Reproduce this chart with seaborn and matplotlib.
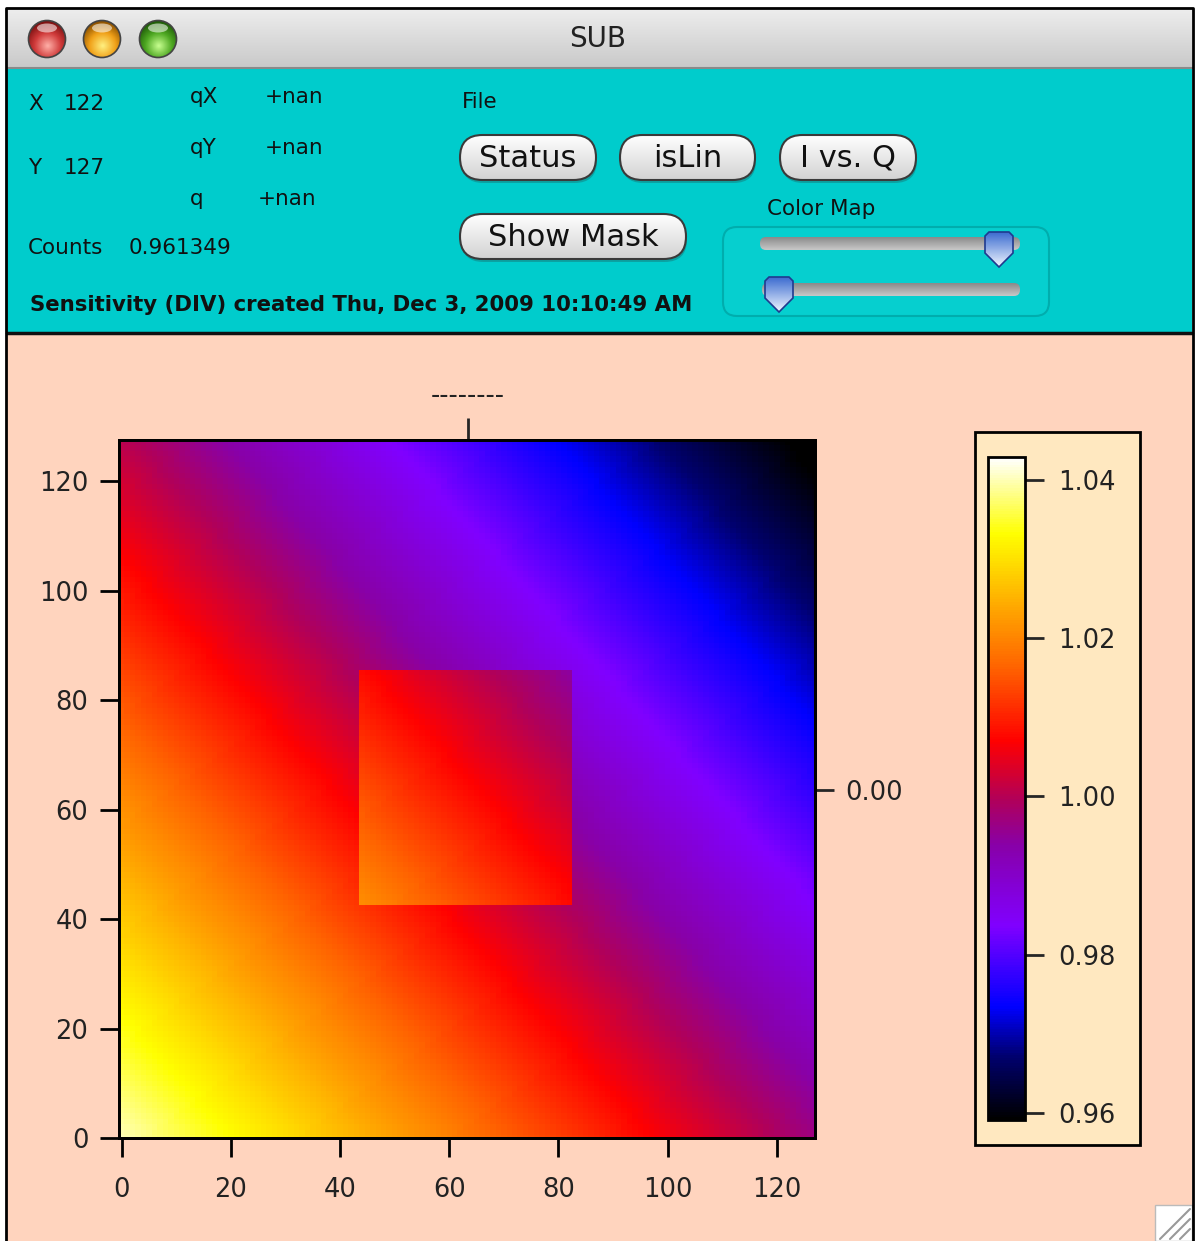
import numpy as np
import pandas as pd
import matplotlib
matplotlib.use("Agg")
import matplotlib.pyplot as plt
import seaborn as sns
from matplotlib.colors import LinearSegmentedColormap
from matplotlib.patches import Rectangle, FancyBboxPatch, Circle, Ellipse, Polygon

sns.set_theme(style="white")
plt.rcParams['font.family'] = ['DejaVu Sans']

W, H = 1196, 1241

# values
n_pix = 128
corner_value = 1.04        # value at pixel (0, 0)
step_x = 0.000339          # drop per pixel along x
step_y = 0.000311          # drop per pixel along y
mask_x = (44, 83)          # boxed region, x pixels
mask_y = (43, 86)          # boxed region, y pixels
mask_shift = 0.009         # box sits a bit higher
axis_ticks = [0, 20, 40, 60, 80, 100, 120]
cbar_ticks = [0.96, 0.98, 1.00, 1.02, 1.04]
vmin, vmax = 0.9591, 1.0429
cmap_values = [0.9591, 0.967, 0.9733, 0.9836, 0.9938, 0.9995, 1.007, 1.0165, 1.0237, 1.0333, 1.0429]
cmap_colors = ['#000000', '#00006E', '#0000FF', '#8000FF', '#8800A8', '#B0005A',
               '#FF0000', '#FF6400', '#FFA500', '#FFFF00', '#FFFFFF']

xs = np.arange(n_pix)
ys = np.arange(n_pix)
grid = corner_value - step_x * xs[None, :] - step_y * ys[:, None]
grid[mask_y[0]:mask_y[1], mask_x[0]:mask_x[1]] += mask_shift
df = pd.DataFrame(grid, index=ys, columns=xs)

pos = [(v - vmin) / (vmax - vmin) for v in cmap_values]
cmap = LinearSegmentedColormap.from_list("igor", list(zip(pos, cmap_colors)))

fig = plt.figure(figsize=(W / 100, H / 100), dpi=100, facecolor='white')

def fx(x):
    return x / W

def fy(y):
    return 1 - y / H

# window background
bg = fig.add_axes([0, 0, 1, 1], zorder=-10)
bg.axis('off')

def vgrad(patch, top_col, bot_col, x0, x1, y0, y1, z=2):
    # vertical gradient clipped to a patch
    bg.add_patch(patch)
    cm = LinearSegmentedColormap.from_list("g", [top_col, bot_col])
    im = bg.imshow(np.linspace(0, 1, 64)[:, None], cmap=cm, vmin=0, vmax=1,
                   extent=[x0, x1, y1, y0], aspect='auto', zorder=z, interpolation='bilinear')
    im.set_clip_path(patch)
    return im

bg.add_patch(Rectangle((7, 334), 1185, H, facecolor='#FFD4BE', edgecolor='none', zorder=1))
vgrad(Rectangle((7, 9), 1185, 59, facecolor='none', edgecolor='none'),
      '#EDEDED', '#C9C9C9', 7, 1192, 9, 68)
bg.plot([7, 1192], [68, 68], color='#8A8A8A', lw=1.5, zorder=3)
bg.add_patch(Rectangle((7, 69), 1185, 264, facecolor='#00CCCC', edgecolor='none', zorder=1))
bg.plot([7, 1192], [333, 333], color='#111111', lw=2.5, zorder=3)
bg.plot([6, 6, 1193, 1193], [H, 8, 8, H], color='black', lw=2, zorder=3)

# title bar lights
for cx, dark, mid, light in [(47, '#7A1010', '#D03A3A', '#FFB0A8'),
                             (102, '#8A5000', '#F0A018', '#FFF080'),
                             (158, '#1E5A08', '#4EA822', '#C8FF90')]:
    circ = Circle((cx, 39), 18.5, facecolor='none', edgecolor='none')
    bg.add_patch(circ)
    yy, xx = np.mgrid[0:64, 0:64]
    r = np.hypot((xx - 32) / 32, (yy - 44) / 32)
    cm = LinearSegmentedColormap.from_list("l", [(0, light), (0.55, mid), (1, dark)])
    im = bg.imshow(np.clip(r, 0, 1.3) / 1.3, cmap=cm, vmin=0, vmax=1,
                   extent=[cx - 18.5, cx + 18.5, 39 + 18.5, 39 - 18.5], zorder=4, interpolation='bilinear')
    im.set_clip_path(circ)
    bg.add_patch(Circle((cx, 39), 18.5, facecolor='none', edgecolor='#444444', lw=1.2, zorder=5))
    bg.add_patch(Ellipse((cx, 28), 20, 9, facecolor='white', edgecolor='none', alpha=0.55, zorder=5))
bg.text(598, 39, "SUB", fontsize=20, ha='center', va='center', color='#222222', zorder=5)

# panel text
lab = dict(fontsize=15.5, va='center', ha='left', color='#111111', zorder=5)
bg.text(28, 104, "X", **lab)
bg.text(64, 104, "122", **lab)
bg.text(28, 168, "Y", **lab)
bg.text(64, 168, "127", **lab)
bg.text(190, 97, "qX", **lab)
bg.text(265, 97, "+nan", **lab)
bg.text(190, 148, "qY", **lab)
bg.text(265, 148, "+nan", **lab)
bg.text(190, 199, "q", **lab)
bg.text(258, 199, "+nan", **lab)
bg.text(28, 248, "Counts", **lab)
bg.text(129, 248, "0.961349", **lab)
bg.text(30, 305, "Sensitivity (DIV) created Thu, Dec 3, 2009 10:10:49 AM",
        fontsize=15.3, va='center', ha='left', color='#111111', fontweight='semibold', zorder=5)
bg.text(462, 102, "File", **lab)
bg.text(767, 209, "Color Map", **lab)

def button(x0, y0, x1, y1, label):
    h = y1 - y0
    bs = f"round,pad=0,rounding_size={h / 2}"
    bg.add_patch(FancyBboxPatch((x0 + 1, y0 + 3), x1 - x0, h, boxstyle=bs,
                                facecolor='#1A7070', edgecolor='none', alpha=0.45, zorder=2))
    vgrad(FancyBboxPatch((x0, y0), x1 - x0, h, boxstyle=bs, facecolor='none', edgecolor='none'),
          '#FFFFFF', '#D2D2D2', x0, x1, y0, y1, z=3)
    bg.add_patch(FancyBboxPatch((x0, y0), x1 - x0, h, boxstyle=bs,
                                facecolor='none', edgecolor='#3A3A3A', lw=1.5, zorder=4))
    bg.text((x0 + x1) / 2, (y0 + y1) / 2 + 1, label, fontsize=22, ha='center', va='center',
            color='#111111', zorder=5)

button(460, 135, 596, 180, "Status")
button(620, 135, 755, 180, "isLin")
button(780, 135, 916, 180, "I vs. Q")
button(460, 214, 686, 259, "Show Mask")

# colour map sliders
bg.add_patch(FancyBboxPatch((723, 227), 326, 89, boxstyle="round,pad=0,rounding_size=14",
                            facecolor='#06CFCF', edgecolor='#00ADAD', lw=1.5, zorder=2))
for tx0, ty0, tx1 in [(760, 237, 1020), (762, 283, 1020)]:
    vgrad(FancyBboxPatch((tx0, ty0), tx1 - tx0, 13, boxstyle="round,pad=0,rounding_size=6",
                         facecolor='none', edgecolor='none'),
          '#8A8A8A', '#C8C8C8', tx0, tx1, ty0, ty0 + 13, z=3)
for cx, top in [(999, 232), (779, 277)]:
    body = [(cx - 14, top + 4), (cx - 10, top), (cx + 10, top), (cx + 14, top + 4),
            (cx + 14, top + 21), (cx, top + 35), (cx - 14, top + 21)]
    vgrad(Polygon(body, closed=True, facecolor='none', edgecolor='none'),
          '#3C6CD0', '#F0F6FF', cx - 14, cx + 14, top, top + 35, z=4)
    bg.add_patch(Polygon(body, closed=True, facecolor='none', edgecolor='#1F3A8F', lw=1.2, zorder=5))

# colour scale frame and resize grip
bg.add_patch(Rectangle((975, 432), 165, 713, facecolor='#FFE8C0', edgecolor='black', lw=2, zorder=2))
bg.add_patch(Rectangle((1155, 1205), 37, 36, facecolor='white', edgecolor='#BBBBBB', lw=1, zorder=2))
for d in [10, 20, 30]:
    bg.plot([1190 - d, 1190], [1239, 1239 - d], color='#999999', lw=1.5, zorder=3)

bg.set_xlim(0, W)
bg.set_ylim(H, 0)

# image plot
ax = fig.add_axes([fx(119), fy(1138), fx(815) - fx(119), fy(440) - fy(1138)])
cax = fig.add_axes([fx(988), fy(1120), fx(1025) - fx(988), fy(457) - fy(1120)])
sns.heatmap(df, ax=ax, cmap=cmap, vmin=vmin, vmax=vmax, cbar=True, cbar_ax=cax,
            xticklabels=False, yticklabels=False)
ax.set_xlim(0, 127.5)
ax.set_ylim(0.5, 128)
for s in ax.spines.values():
    s.set_visible(True)
    s.set_linewidth(2)
    s.set_color('black')
ax.set_xticks([v + 0.5 for v in axis_ticks])
ax.set_xticklabels([str(v) for v in axis_ticks])
ax.set_yticks([v + 0.5 for v in axis_ticks])
ax.set_yticklabels([str(v) for v in axis_ticks])
ax.set_xlabel("")
ax.set_ylabel("")
ax.tick_params(bottom=True, left=True, direction='out', length=14, width=2,
               labelsize=18.5, colors='black', labelcolor='#222222', pad=8)
ax.tick_params(axis='x', pad=14)

axr = ax.twinx()
axr.set_ylim(ax.get_ylim())
axr.set_yticks([64])
axr.set_yticklabels(["0.00"])
axr.tick_params(right=True, direction='out', length=14, width=2, labelsize=18.5,
                labelcolor='#222222', pad=8)
axt = ax.twiny()
axt.set_xlim(ax.get_xlim())
axt.set_xticks([63.9])
axt.set_xticklabels(["--------"])
axt.tick_params(top=True, direction='out', length=16, width=2, labelsize=18.5,
                labelcolor='#222222', pad=6)
for a in (axr, axt):
    for s in a.spines.values():
        s.set_linewidth(2)
        s.set_color('black')

cb = ax.collections[0].colorbar
cb.set_ticks(cbar_ticks)
cb.set_ticklabels([f"{v:.2f}" for v in cbar_ticks])
cb.outline.set_linewidth(2)
cb.outline.set_edgecolor('black')
cax.tick_params(right=True, direction='out', length=14, width=2, labelsize=18.5,
                labelcolor='#222222', pad=10)

fig.savefig('out.png', dpi=100)
